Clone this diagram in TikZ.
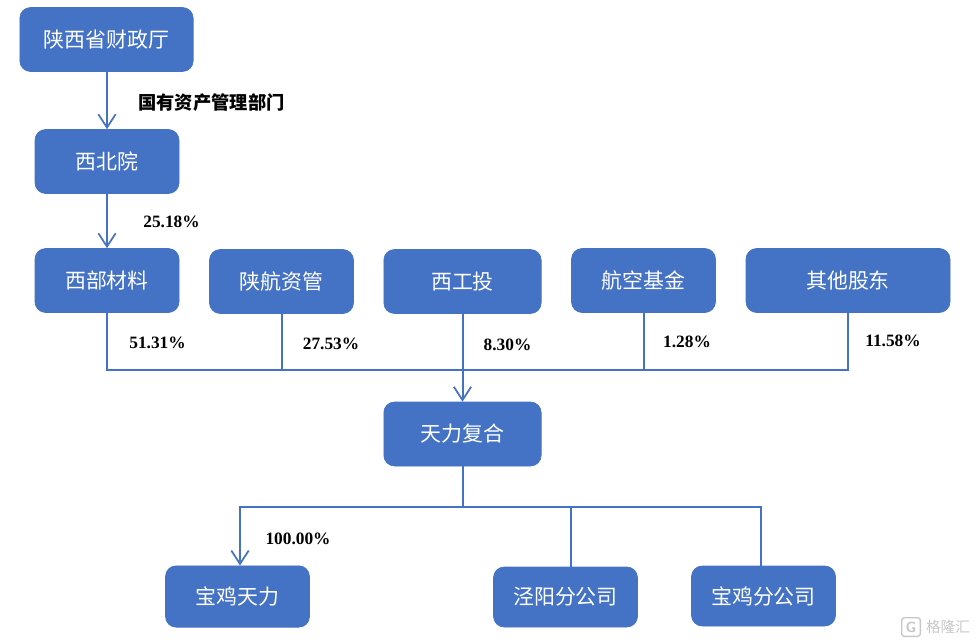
\documentclass[tikz,border=0pt]{standalone}
\usepackage{fontspec}
\usetikzlibrary{arrows.meta}
\setmainfont{Liberation Serif}
\newfontfamily\cjk{Noto Sans CJK SC}
\definecolor{boxblue}{HTML}{4472C4}
\begin{document}
\begin{tikzpicture}[x=0.75pt,y=-0.75pt,
	main/.style = {draw=boxblue, line width=0.5pt, fill=boxblue, rounded corners=8pt, text=white, inner sep=0pt, minimum width=108pt, minimum height=48pt, font=\cjk\fontsize{15.7}{18}\selectfont},
	pct/.style = {inner sep=0pt, font=\bfseries\fontsize{13}{16}\selectfont},
	link/.style = {draw=boxblue, line width=1.5pt},
	tip/.style = {link, -{Straight Barb[length=10pt,width=13pt,line width=1.3pt]}},
	wmark/.style = {text=black!22, inner sep=0pt}]
	\useasboundingbox (0,0) rectangle (976,643);
	\node[main, minimum width=130pt] (czt) at (106.5,39.5) {陕西省财政厅};
	\node[main] (xby) at (107,161.5) {西北院};
	\node[main] (xbcl) at (107,280.5) {西部材料};
	\node[main] (shzg) at (281.5,281.5) {陕航资管};
	\node[main, minimum width=118pt] (xgt) at (462.5,281.5) {西工投};
	\node[main] (hkjj) at (643.5,280.5) {航空基金};
	\node[main, minimum width=153pt] (qtgd) at (848,280.5) {其他股东};
	\node[main, minimum width=118pt] (tlfh) at (462.5,434) {天力复合};
	\node[main, minimum height=46pt] (bjtl) at (237.5,596.5) {宝鸡天力};
	\node[main, minimum height=45pt] (jyfgs) at (565.5,597) {泾阳分公司};
	\node[main, minimum height=45pt] (bjfgs) at (763.5,596) {宝鸡分公司};
	\node[pct, font=\cjk\bfseries\fontsize{13.7}{16}\selectfont] (gz) at (211.5,102.5) {国有资产管理部门};
	\node[pct] (p1) at (171.5,222) {25.18\%};
	\node[pct] (p2) at (157.5,343) {51.31\%};
	\node[pct] (p3) at (331,344) {27.53\%};
	\node[pct] (p4) at (507.5,344.5) {8.30\%};
	\node[pct] (p5) at (687,342) {1.28\%};
	\node[pct] (p6) at (893,341) {11.58\%};
	\node[pct] (p7) at (298,539) {100.00\%};
	\node[wmark, font=\sffamily\bfseries\fontsize{11}{13}\selectfont, draw=black!22, line width=1pt, rounded corners=2pt, minimum width=14pt, minimum height=14pt] (glg) at (911,627) {G};
	\node[wmark, font=\cjk\fontsize{11}{13}\selectfont] (gl) at (948,627) {格隆汇};
	\coordinate (busl) at (107,370);
	\coordinate (busr) at (848,370);
	\coordinate (subl) at (240,507);
	\coordinate (subm) at (462.5,507);
	\coordinate (subj) at (571,507);
	\coordinate (subr) at (761,507);
	\draw[tip] (czt.south -| xby) -- (xby.north);
	\draw[tip] (xby) ++(0,32) -- (xbcl.north);
	\draw[link] (xbcl.south) -- (busl) -- (busr) -- (qtgd.south);
	\draw[link] (shzg.south) -- (shzg.south |- busl);
	\draw[link] (hkjj.south) -- (hkjj.south |- busl);
	\draw[tip] (xgt.south) -- (tlfh.north);
	\draw[link] (tlfh.south) -- (subm);
	\draw[tip] (subm) -- (subl) -- (subl |- bjtl.north);
	\draw[link] (subm) -- (subr) -- (subr |- bjfgs.north);
	\draw[link] (subj) -- (subj |- jyfgs.north);
\end{tikzpicture}
\end{document}
